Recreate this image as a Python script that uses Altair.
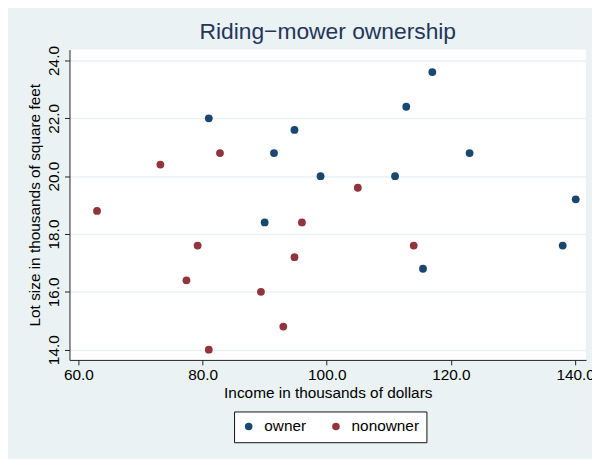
import altair as alt
import pandas as pd

owner_income = [90.0, 115.5, 94.8, 91.5, 117.0, 140.1, 138.0, 112.8, 99.0, 123.0, 81.0, 111.0]
owner_lot = [18.4, 16.8, 21.6, 20.8, 23.6, 19.2, 17.6, 22.4, 20.0, 20.8, 22.0, 20.0]
non_income = [105.0, 82.8, 94.8, 73.2, 114.0, 79.2, 89.4, 96.0, 77.4, 63.0, 81.0, 93.0]
non_lot = [19.6, 20.8, 17.2, 20.4, 17.6, 17.6, 16.0, 18.4, 16.4, 18.8, 14.0, 14.8]

x_ticks = [60, 80, 100, 120, 140]
y_ticks = [14, 16, 18, 20, 22, 24]
groups = ["owner", "nonowner"]
colors = ["#1A476F", "#90353B"]

df = pd.DataFrame({
    "income": owner_income + non_income,
    "lot": owner_lot + non_lot,
    "group": ["owner"] * len(owner_income) + ["nonowner"] * len(non_income),
})

FONT = "Liberation Sans"

chart = alt.Chart(df).mark_circle(size=62, opacity=1).encode(
    x=alt.X("income:Q",
            scale=alt.Scale(domain=[58.56, 141.76], nice=False, zero=False),
            axis=alt.Axis(values=x_ticks, format=".1f", grid=False,
                          title="Income in thousands of dollars",
                          labelFontSize=15.5, titleFontSize=15.5,
                          labelPadding=3, titlePadding=2,
                          tickSize=5, labelFlush=False)),
    y=alt.Y("lot:Q",
            scale=alt.Scale(domain=[13.647, 24.377], nice=False, zero=False),
            axis=alt.Axis(values=y_ticks, format=".1f", grid=True,
                          gridColor="#EAF2F3", gridWidth=1.5,
                          title="Lot size in thousands of square feet",
                          labelAngle=270, labelAlign="center", labelBaseline="bottom",
                          labelFontSize=15.5, titleFontSize=15.5,
                          labelPadding=3, titlePadding=4,
                          tickSize=5, labelFlush=False)),
    color=alt.Color("group:N",
                    scale=alt.Scale(domain=groups, range=colors),
                    legend=alt.Legend(title=None, orient="none", direction="horizontal",
                                      legendX=166, legendY=365,
                                      fillColor="white", strokeColor="#111",
                                      padding=7, labelFontSize=15.5, symbolSize=58,
                                      symbolType="circle", columnPadding=22,
                                      labelOffset=8, labelColor="#000")),
).properties(
    width=521,
    height=313,
    title=alt.TitleParams("Riding\u2212mower ownership", fontSize=23, fontWeight="normal",
                          color="#25365C", font=FONT, anchor="middle", offset=2),
    background="#EAF2F3",
    padding={"left": 62, "top": 40, "right": 6, "bottom": 98},
    autosize=alt.AutoSizeParams(type="none"),
).configure(
    font=FONT,
).configure_view(
    fill="white", stroke=None,
).configure_axis(
    domainColor="#222", tickColor="#222", labelColor="#000", titleColor="#000",
    titleFontWeight="normal", labelFont=FONT, titleFont=FONT,
).configure_legend(
    labelFont=FONT,
)

chart.save("out.html", embed_options={"renderer": "svg", "actions": False})
